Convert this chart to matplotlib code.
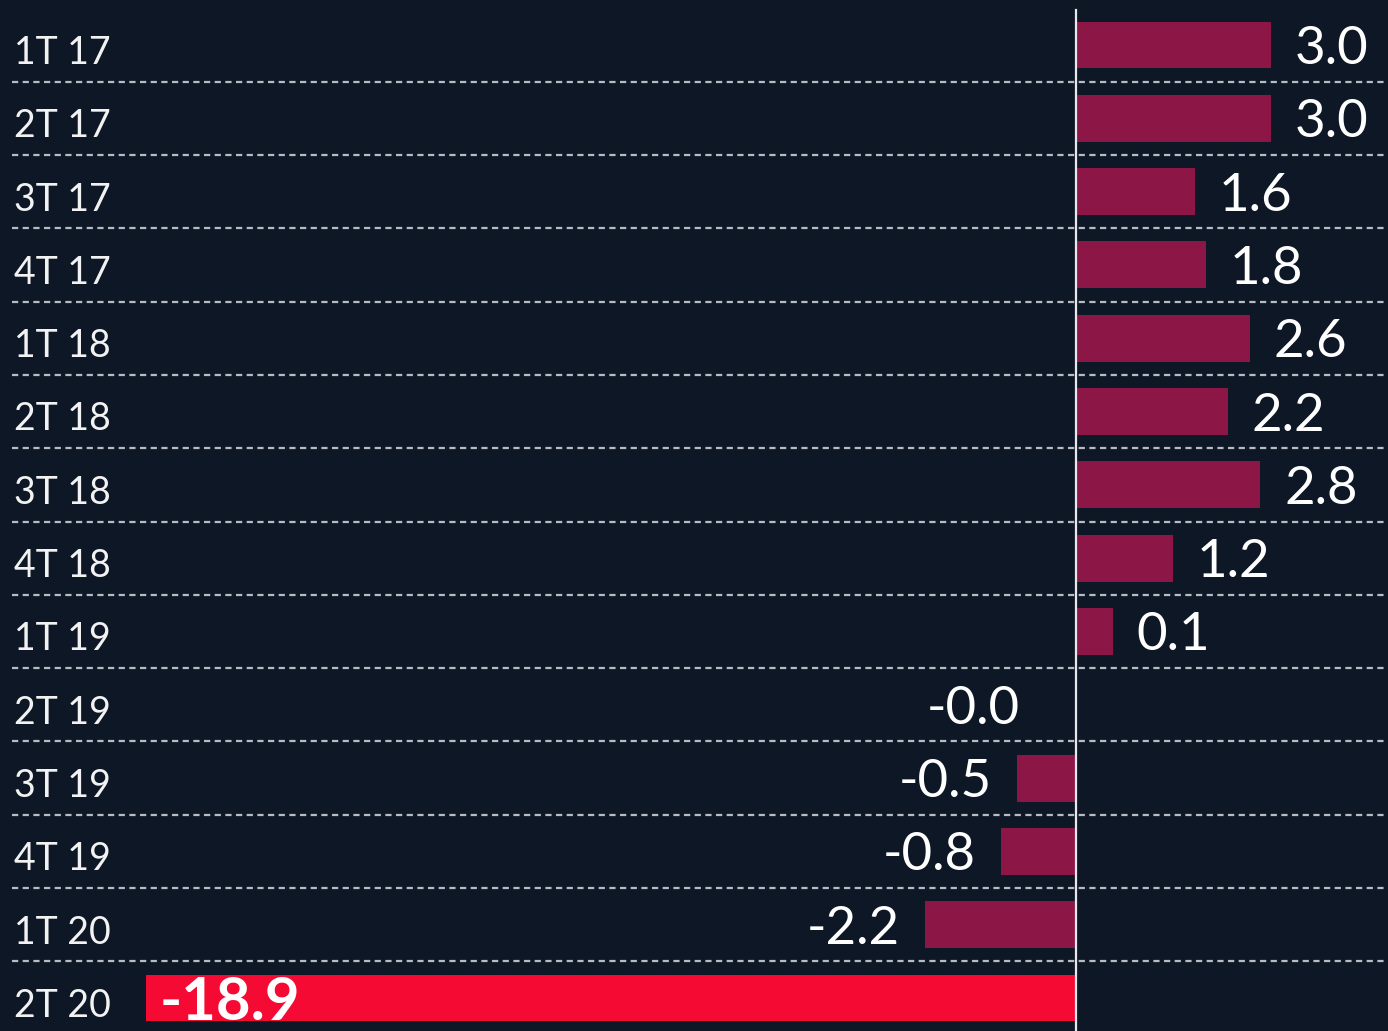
import matplotlib.pyplot as plt
from matplotlib.transforms import blended_transform_factory
import numpy as np

plt.rcParams['font.family'] = ['Lato', 'DejaVu Sans']

quarters = ['1T 17', '2T 17', '3T 17', '4T 17', '1T 18', '2T 18', '3T 18',
            '4T 18', '1T 19', '2T 19', '3T 19', '4T 19', '1T 20', '2T 20']
values = [3.0, 3.0, 1.6, 1.8, 2.6, 2.2, 2.8, 1.2, 0.1, -0.0, -0.5, -0.8, -2.2, -18.9]
labels = ['3.0', '3.0', '1.6', '1.8', '2.6', '2.2', '2.8', '1.2', '0.1',
          '-0.0', '-0.5', '-0.8', '-2.2', '-18.9']

bg = '#0e1726'
maroon = '#8c1646'
red = '#f50a34'

# the original bars start with a small stub and the big drop is cut off
stub = 0.58
cut = -17.06

v = np.array(values, dtype=float)
sgn = np.copysign(1.0, v)
ends = sgn * (stub + np.abs(v))
bars = np.where(np.round(v, 1) == 0, 0.0, np.maximum(ends, cut))
y = np.arange(len(v))

fig = plt.figure(figsize=(13.88, 10.31), dpi=100, facecolor=bg)
ax = fig.add_axes([0, 0, 1, 1])
ax.set_facecolor(bg)

colors = [maroon] * (len(v) - 1) + [red]
ax.barh(y, bars, height=0.64, color=colors, zorder=2)

for yy in y[:-1] + 0.5:
    ax.axhline(yy, xmin=12 / 1388, color='#b8bcc2', lw=1.6,
               linestyle=(0, (2.8, 2)), zorder=1)

ax.axvline(0, ymin=0, ymax=0.99, color='#e8e8ec', lw=1.6, zorder=3)

for i in range(len(v) - 1):
    if sgn[i] > 0:
        ax.annotate(labels[i], (ends[i], i), xytext=(17, 0), textcoords='offset points',
                    ha='left', va='center_baseline', color='white', fontsize=38)
    else:
        ax.annotate(labels[i], (ends[i], i), xytext=(-18, 0), textcoords='offset points',
                    ha='right', va='center_baseline', color='white', fontsize=38)

i = len(v) - 1
ax.annotate(labels[i], (bars[i], i), xytext=(10, 0), textcoords='offset points',
            ha='left', va='center_baseline', color='white', fontsize=43,
            fontweight='bold')

tr = blended_transform_factory(ax.transAxes, ax.transData)
for i, q in enumerate(quarters):
    ax.text(14 / 1388, i + 0.06, q, transform=tr, ha='left', va='center_baseline',
            color='#f2f2f2', fontsize=27)

ax.set_xlim(-19.74, 5.72)
ax.set_ylim(13.45, -0.614)
ax.axis('off')

plt.savefig('out.png', dpi=100, facecolor=bg)
plt.close()
